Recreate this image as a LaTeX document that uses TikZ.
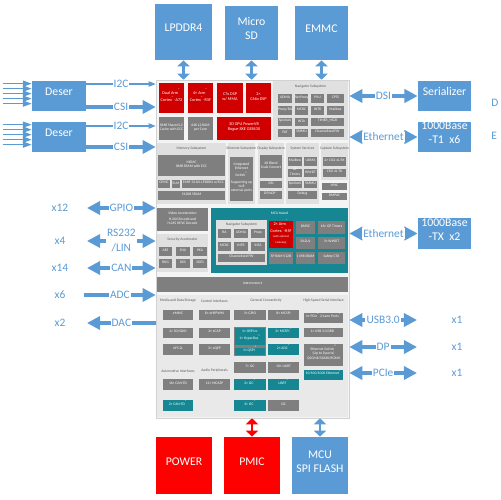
\documentclass[tikz,border=0pt]{standalone}
\usepackage{fontspec}
\setmainfont{Carlito}
\usepackage{tikz}
\usetikzlibrary{arrows.meta, positioning, fit}

\definecolor{boxblue}{RGB}{91,155,213}
\definecolor{chipred}{RGB}{208,0,0}
\definecolor{pwrred}{RGB}{255,0,0}
\definecolor{cellgray}{RGB}{127,127,127}
\definecolor{chipteal}{RGB}{22,135,146}

\begin{document}
\begin{tikzpicture}[
    x=0.02cm, y=-0.02cm,
    every node/.style={align=center, inner sep=0pt},
    ext/.style={fill=boxblue, text=white, font=\fontsize{6.7}{8}\selectfont},
    pwr/.style={ext, fill=pwrred},
    chipbg/.style={fill=gray!9, draw=gray!35, line width=0.3pt},
    subsys/.style={fill=gray!24},
    subtitle/.style={font=\fontsize{2.1}{2.5}\selectfont, text=black!65},
    cell/.style={fill=cellgray, text=white, font=\fontsize{2.1}{2.5}\selectfont},
    redcell/.style={cell, fill=chipred, font=\fontsize{2.4}{2.9}\selectfont},
    tealcell/.style={cell, fill=chipteal},
    ifl/.style={font=\fontsize{6.5}{8.5}\selectfont, text=boxblue, fill=white, inner sep=0.6pt},
    cnt/.style={font=\fontsize{6.5}{8}\selectfont, text=boxblue},
    inarr/.style={-{Triangle[length=5pt, width=3.5pt]}, boxblue, line width=0.6pt},
    thinarr/.style={-{Triangle[length=4pt, width=3pt]}, boxblue, line width=0.6pt},
    fatarr/.style={-{Triangle[length=7.5pt, width=7.5pt]}, boxblue, line width=2pt},
    fatboth/.style={{Triangle[length=7.5pt, width=7.5pt]}-{Triangle[length=7.5pt, width=7.5pt]}, boxblue, line width=2pt},
    memarr/.style={{Triangle[length=3.5pt, width=7pt]}-{Triangle[length=3.5pt, width=7pt]}, boxblue, line width=1.7pt}
]
\useasboundingbox (0,0) rectangle (500,500);

% external parts
\node[ext, fit={(155,4)(212,60)}]   (lpddr)  {LPDDR4};
\node[ext, fit={(225,6)(278,60)}]   (msd)    {Micro\\SD};
\node[ext, fit={(295,6)(348,60)}]   (emmc)   {EMMC};
\node[ext, fit={(32,81)(86,111)}]   (deser1) {Deser};
\node[ext, fit={(32,122)(86,152)}]  (deser2) {Deser};
\node[ext, fit={(418,81)(471,111)}] (ser)    {Serializer};
\node[ext, fit={(418,122)(471,152)}] (t1)    {1000Base\\-T1~~x6};
\node[ext, fit={(418,218)(471,249)}] (tx)    {1000Base\\-TX~~x2};
\node[pwr, fit={(156,437)(212,494)}] (power) {POWER};
\node[pwr, fit={(224,437)(280,494)}] (pmic)  {PMIC};
\node[ext, fit={(292,437)(348,494)}] (flash) {MCU\\SPI FLASH};

% SoC
\node[chipbg, fit={(156,80)(349,418)}] (chip) {};

\node[redcell, fit={(159,83)(184,113)}]  (a72)   {Dual Arm\textsuperscript{®}\\Cortex\textsuperscript{®}-A72};
\node[redcell, fit={(188,83)(213,113)}]  (r5f)   {4× Arm\textsuperscript{®}\\Cortex\textsuperscript{®}-R5F};
\node[redcell, fit={(217,83)(243,113)}]  (c7x)   {C7x DSP\\w/ MMA};
\node[redcell, fit={(246,83)(271,113)}]  (c66)   {2×\\C66x DSP};
\node[cell,    fit={(159,117)(184,140)}] (l2)    {8MB Shared L2\\Cache with ECC};
\node[cell,    fit={(188,117)(213,140)}] (l2ram) {64K L2 RAM\\per Core};
\node[redcell, fit={(217,117)(271,140)}] (gpu)   {3D GPU PowerVR\\Rogue 8XE GE8430};

\node[subsys, fit={(273,81)(348,140)}] (nav) {};
\node[subtitle] (navt) at (310.5,87) {Navigator Subsystem};
\node[cell, fit={(278,94)(292,103)}]   (udma)   {UDMA};
\node[cell, fit={(295,94)(308,103)}]   (secpx)  {SecProxy};
\node[cell, fit={(311,94)(324,103)}]   (pvu)    {PVU};
\node[cell, fit={(327,94)(344,103)}]   (cpts)   {CPTS};
\node[cell, fit={(278,106)(292,115)}]  (proxy)  {Proxy/RA};
\node[cell, fit={(295,106)(308,115)}]  (mcrc)   {MCRC};
\node[cell, fit={(311,106)(324,115)}]  (intr)   {INTR};
\node[cell, fit={(327,106)(344,115)}]  (mbox)   {Mailbox};
\node[cell, fit={(278,118)(292,126)}]  (spin)   {Spinlock};
\node[cell, fit={(295,118)(308,126)}]  (inta)   {INTA};
\node[cell, fit={(311,118)(344,126)}]  (tmgr)   {TIMER\_MGR};
\node[cell, fit={(278,129)(292,137)}]  (pat)    {PAT};
\node[cell, fit={(295,129)(308,137)}]  (smmu)   {SMMU};
\node[cell, fit={(311,129)(344,137)}]  (cfw)    {Channelized FW};

\node[subsys, fit={(157,143)(226,204)}] (mem) {};
\node[subtitle] (memt) at (191.5,149) {Memory Subsystem};
\node[cell, fit={(158,155)(225,176)}] (msmc) {MSMC\\8MB SRAM with ECC};
\node[cell, fit={(158,180)(170,188)}] (gpmc) {GPMC};
\node[cell, fit={(172,180)(180,188)}] (elm)  {ELM};
\node[cell, fit={(182,180)(225,188)}] (emif) {EMIF 32-bit LPDDR4 w/ECC};
\node[cell, fit={(158,191)(225,200)}] (sram) {512KB SRAM};

\node[subsys, fit={(228,143)(255,204)}] (eth) {};
\node[subtitle] (etht) at (241.5,149) {Ethernet Subsystem};
\node[cell, fit={(230,157)(253,201)}] (ethsw) {Integrated\\Ethernet\\Switch\textsuperscript{1}\\[1pt]Supporting up to 8\\external ports};

\node[subsys, fit={(258,143)(284,204)}] (dss) {};
\node[subtitle] (dsst) at (271,149) {Display Subsystem};
\node[cell, fit={(260,155)(282,178)}] (blend) {4K Blend\\Scale Convert};
\node[cell, fit={(260,181)(282,188)}] (dsi)   {DSI};
\node[cell, fit={(260,191)(282,199)}] (dpe)   {DP/eDP\textsuperscript{8}};

\node[subsys, fit={(286,143)(319,204)}] (sys) {};
\node[subtitle] (syst) at (302.5,149) {System Services};
\node[cell, fit={(288,157)(302,166)}] (smbox)  {Mailbox};
\node[cell, fit={(304,157)(317,166)}] (sudma)  {UDMA};
\node[cell, fit={(288,169)(302,177)}] (sgpt)   {GP Timers};
\node[cell, fit={(304,169)(317,177)}] (swwdt)  {WWDT};
\node[cell, fit={(288,181)(302,188)}] (sspin)  {Spinlock};
\node[cell, fit={(304,181)(317,188)}] (ssmmu)  {SMMU};
\node[cell, fit={(288,191)(317,199)}] (debug)  {Debug};

\node[subsys, fit={(321,143)(348,180)}] (cap) {};
\node[subtitle] (capt) at (334.5,149) {Capture Subsystem};
\node[cell, fit={(323,157)(346,166)}] (csirx) {2× CSI2 4L RX};
\node[cell, fit={(323,169)(346,177)}] (csitx) {CSI2 4L TX};
\node[cell, fit={(322,183)(347,190)}] (vpac)  {VPAC};
\node[cell, fit={(322,193)(347,200)}] (dmpac) {DMPAC};

\node[cell, fit={(157,208)(208,231)}] (video) {Video Acceleration\\[1pt]H.264 Encode and\\H.265 HEVC Decode};
\node[subsys, fit={(157,234)(208,272)}] (sec) {};
\node[subtitle] (sect) at (182.5,240) {Security Accelerator};
\node[cell, fit={(159,247)(172,256)}] (aes)  {AES};
\node[cell, fit={(176,247)(190,256)}] (sha)  {SHA};
\node[cell, fit={(193,247)(207,256)}] (pka)  {PKA};
\node[cell, fit={(159,259)(172,268)}] (rng)  {RNG};
\node[cell, fit={(176,259)(190,268)}] (des)  {DES};
\node[cell, fit={(193,259)(207,268)}] (tdes) {3DES};

\node[tealcell, fit={(211,208)(348,273)}] (mcu) {};
\node[subtitle, text=white] (mcut) at (279.5,213) {MCU Island};
\node[subsys, fit={(216,220)(267,265)}] (mnav) {};
\node[subtitle] (mnavt) at (241.5,225) {Navigator Subsystem};
\node[cell, fit={(218,229)(231,238)}] (mra)    {RA};
\node[cell, fit={(234,229)(248,238)}] (mudma)  {UDMA};
\node[cell, fit={(251,229)(265,238)}] (mproxy) {Proxy};
\node[cell, fit={(218,242)(231,251)}] (mmcrc)  {MCRC};
\node[cell, fit={(234,242)(248,251)}] (mintr)  {INTR};
\node[cell, fit={(251,242)(265,251)}] (minta)  {INTA};
\node[cell, fit={(218,254)(265,262)}] (mcfw)   {Channelized FW};
\node[redcell, fit={(269,221)(293,248)}] (mr5f) {2× Arm\textsuperscript{®}\\Cortex\textsuperscript{®}-R5F\\{\fontsize{1.6}{2}\selectfont (with optional Lockstep)}};
\node[cell, fit={(296,221)(315,234)}] (dmsc)  {DMSC};
\node[cell, fit={(318,221)(345,234)}] (gpt16) {16× GP Timers};
\node[cell, fit={(296,237)(315,249)}] (sa2ul) {SA2UL};
\node[cell, fit={(318,237)(345,249)}] (wwdt3) {3× WWDT};
\node[cell, fit={(269,252)(293,264)}] (spram) {SP RAM 512B};
\node[cell, fit={(296,252)(315,264)}] (msram) {1 MB SRAM};
\node[cell, fit={(318,252)(345,264)}] (sctx)  {Safety CTX};

\node[cell, fit={(157,277)(348,292)}] (ic) {Interconnect};

\node[subsys, fill=gray!17, fit={(157,295)(348,417)}] (periph) {};
\node[subtitle] (mdst) at (178,301)   {Media and Data Storage};
\node[subtitle] (ctlt) at (214.5,301) {Control Interfaces};
\node[subtitle] (gent) at (266,301)   {General Connectivity};
\node[subtitle] (hsst) at (323.5,301) {High-Speed Serial Interface};
\node[subtitle] (autt) at (178,371)   {Automotive Interfaces};
\node[subtitle] (audt) at (214.5,371) {Audio Peripherals};

\node[cell, fit={(163,310)(193,320)}] (emmcc)  {eMMC};
\node[cell, fit={(163,328)(193,338)}] (sdio)   {2× SD/SDIO};
\node[cell, fit={(163,344)(193,355)}] (ufs)    {UFS 2L};
\node[cell, fit={(163,379)(193,390)}] (canfd)  {16× CAN-FD};
\node[tealcell, fit={(163,400)(193,411)}] (mcan) {2× CAN-FD\textsuperscript{1}};
\node[cell, fit={(199,310)(230,320)}] (pwm)    {8× eHRPWM};
\node[cell, fit={(199,328)(230,338)}] (ecap)   {3× eCAP};
\node[cell, fit={(199,344)(230,355)}] (eqep)   {3× eQEP};
\node[cell, fit={(199,379)(230,390)}] (mcasp)  {12× MCASP};
\node[cell, fit={(234,310)(266,320)}] (gpio)   {3× GPIO};
\node[cell, fit={(234,327)(266,356)}] (ospibg) {};
\node[tealcell, fit={(235,328)(265,345)}] (ospi) {1× OSPI or\\1× HyperBus\textsuperscript{1}};
\node[tealcell, fit={(235,348)(265,355)}] (qspi) {1× QSPI\textsuperscript{1}};
\node[cell, fit={(234,362)(266,373)}] (i2c7)   {7× I2C};
\node[tealcell, fit={(234,379)(266,390)}] (i2c2) {2× I2C\textsuperscript{1}};
\node[tealcell, fit={(234,400)(266,411)}] (i3c3) {3× I3C\textsuperscript{1}};
\node[cell, fit={(268,310)(299,320)}] (mcspi8) {8× MCSPI};
\node[tealcell, fit={(268,328)(299,338)}] (mcspi3) {3× MCSPI\textsuperscript{1}};
\node[tealcell, fit={(268,344)(299,355)}] (adc2)   {2× ADC\textsuperscript{1}};
\node[cell, fit={(268,362)(299,373)}] (uart10) {10× UART};
\node[tealcell, fit={(268,379)(299,390)}] (uart) {UART\textsuperscript{1}};
\node[cell, fit={(268,400)(299,411)}] (i3c)    {I3C};
\node[cell, fit={(304,313)(343,323)}] (pcie)   {4× PCIe\textsuperscript{2} 2-Lane Ports\textsuperscript{2}};
\node[cell, fit={(304,328)(343,337)}] (usb)    {1× USB 3.0 DRD\textsuperscript{2}};
\node[cell, fit={(304,344)(343,366)}] (ethsw2) {Ethernet Switch\textsuperscript{2}\\(Up to 8 ports)\\QSGMII/SGMII/RGMII};
\node[tealcell, fit={(304,370)(343,380)}] (eth1g) {10/100/1000 Ethernet\textsuperscript{1}};

% memories and power
\draw[memarr] (lpddr.south) -- (lpddr.south |- chip.north);
\draw[memarr] (msd.south)   -- (msd.south |- chip.north);
\draw[memarr] (emmc.south)  -- (emmc.south |- chip.north);
\draw[memarr, pwrred] (pmic.north)  -- (pmic.north |- chip.south);
\draw[memarr] (flash.north) -- (flash.north |- chip.south);

% cameras
\foreach \dy in {3,8,13,18,23} {
  \draw[inarr] ([shift={(-29,\dy)}]deser1.north west) -- ([shift={(0,\dy)}]deser1.north west);
  \draw[inarr] ([shift={(-29,\dy)}]deser2.north west) -- ([shift={(0,\dy)}]deser2.north west);
}
\draw[thinarr] (deser1.east |- 0,84)  -- (chip.west |- 0,84)  node[midway, ifl] {I2C};
\draw[fatarr]  (deser1.east |- 0,107) -- (chip.west |- 0,107) node[midway, ifl] {CSI};
\draw[thinarr] (deser2.east |- 0,126) -- (chip.west |- 0,126) node[midway, ifl] {I2C};
\draw[fatarr]  (deser2.east |- 0,147) -- (chip.west |- 0,147) node[midway, ifl] {CSI};

% left interfaces
\node[cnt] (n12) at (60,208) {x12};
\node[cnt] (n4)  at (60,241) {x4};
\node[cnt] (n14) at (60,268) {x14};
\node[cnt] (n6)  at (60,295) {x6};
\node[cnt] (n2)  at (60,323) {x2};
\coordinate (gpioL) at (87,208);
\coordinate (rsL)   at (87,241);
\coordinate (canL)  at (87,268);
\coordinate (adcL)  at (84,295);
\coordinate (dacL)  at (87,323);
\draw[fatboth] (gpioL) -- (gpioL -| chip.west) node[midway, ifl] {GPIO};
\draw[fatboth] (rsL)   -- (rsL -| chip.west)   node[midway, ifl] {RS232\\/LIN};
\draw[fatboth] (canL)  -- (canL -| chip.west)  node[midway, ifl] {CAN};
\draw[fatarr]  (adcL)  -- (adcL -| chip.west)  node[midway, ifl] {ADC};
\draw[fatarr]  (dacL -| chip.west) -- (dacL)   node[midway, ifl] {DAC};

% right interfaces
\draw[fatboth] (chip.east |- ser.west) -- (ser.west) node[midway, ifl] {DSI};
\draw[fatboth] (chip.east |- t1.west)  -- (t1.west)  node[midway, ifl] {Ethernet};
\draw[fatboth] (chip.east |- tx.west)  -- (tx.west)  node[midway, ifl] {Ethernet};
\node[cnt, anchor=west] (dcut) at (491,103) {D};
\node[cnt, anchor=west] (ecut) at (491,136) {E};
\node[cnt] (nusb)  at (457,320) {x1};
\node[cnt] (ndp)   at (457,347) {x1};
\node[cnt] (npcie) at (457,373) {x1};
\coordinate (usbR)  at (417,320);
\coordinate (dpR)   at (417,347);
\coordinate (pcieR) at (417,373);
\draw[fatboth] (usbR -| chip.east)  -- (usbR)  node[midway, ifl] {USB3.0};
\draw[fatboth] (dpR -| chip.east)   -- (dpR)   node[midway, ifl] {DP};
\draw[fatboth] (pcieR -| chip.east) -- (pcieR) node[midway, ifl] {PCIe};
\end{tikzpicture}
\end{document}
